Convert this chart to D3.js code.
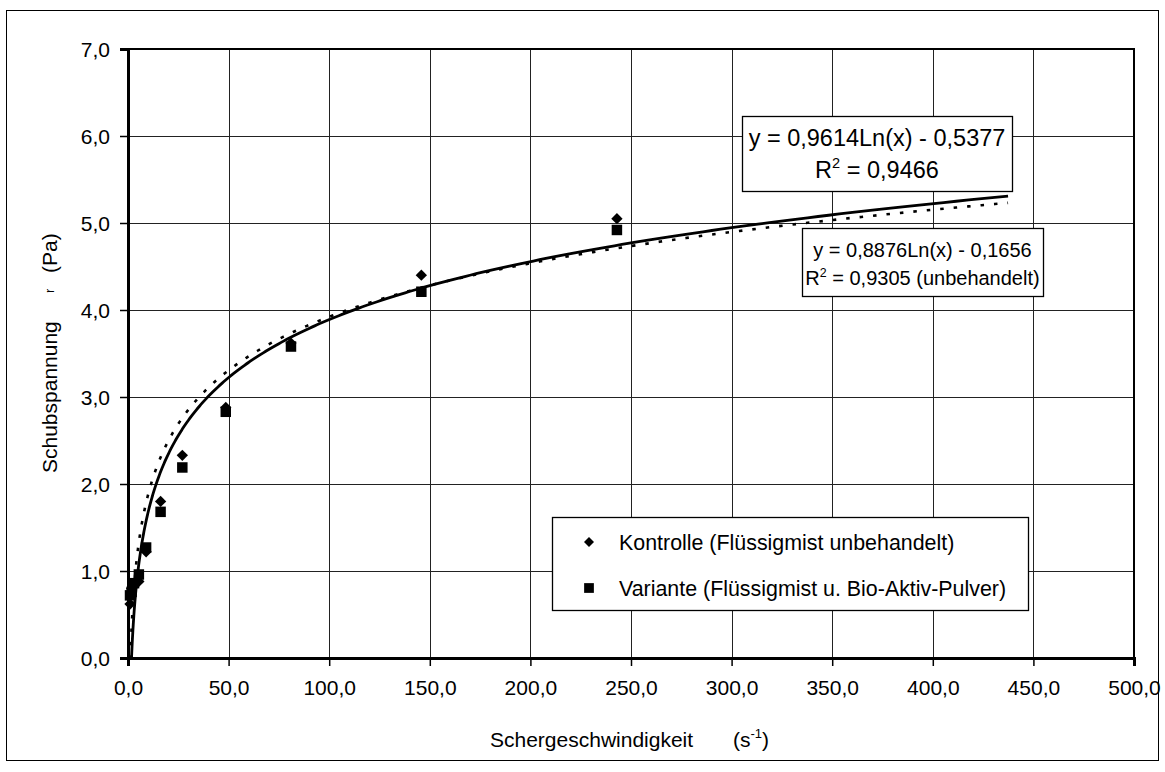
<!DOCTYPE html>
<html>
<head>
<meta charset="utf-8">
<script src="https://cdn.jsdelivr.net/npm/d3@7"></script>
<style>
  body { margin: 0; background: #fff; }
  svg { display: block; }
  text { font-family: "Liberation Sans", Arial, Helvetica, sans-serif; fill: #000; }
</style>
</head>
<body>
<svg id="chart" width="1165" height="772"></svg>
<script>
// Shear rate steps (1/s) and measured shear stress (Pa)
const shearRates = [1.0, 1.8, 3.0, 5.4, 9.0, 16.2, 27.0, 48.6, 81.0, 145.8, 243.0];
const kontrolle  = [0.62, 0.80, 0.83, 0.88, 1.22, 1.80, 2.33, 2.88, 3.62, 4.40, 5.05];
const variante   = [0.72, 0.76, 0.86, 0.96, 1.27, 1.68, 2.19, 2.83, 3.58, 4.21, 4.92];

// Logarithmic trend lines y = a*ln(x) + b
const fitVariante  = [0.9614, -0.5377];
const fitKontrolle = [0.8876, -0.1656];
const fitRange = [1.0, 437.4];

const xTicks = [0, 50, 100, 150, 200, 250, 300, 350, 400, 450, 500];
const yTicks = [0, 1, 2, 3, 4, 5, 6, 7];

const seriesNames = ["Kontrolle (Flüssigmist unbehandelt)", "Variante (Flüssigmist u. Bio-Aktiv-Pulver)"];

const svg = d3.select("#chart");
const W = 1165, H = 772;
const plot = { left: 128, top: 49, right: 1134, bottom: 658 };

const x = d3.scaleLinear().domain([0, 500]).range([plot.left, plot.right]);
const y = d3.scaleLinear().domain([0, 7]).range([plot.bottom, plot.top]);

const de = d3.formatLocale({ decimal: ",", thousands: ".", grouping: [3], currency: ["", " €"] });
const fmt = de.format(".1f");
const fmt4 = de.format(".4f");

svg.append("rect").attr("width", W).attr("height", H).attr("fill", "#fff");

// outer chart frame
svg.append("rect")
  .attr("x", 6.5).attr("y", 10.5).attr("width", 1152).attr("height", 750)
  .attr("fill", "none").attr("stroke", "#000").attr("stroke-width", 1);

// grid
const grid = svg.append("g").attr("stroke", "#222").attr("stroke-width", 1);
grid.selectAll("line.gx").data(xTicks.filter(d => d > 0)).join("line")
  .attr("x1", d => Math.round(x(d)) + 0.5).attr("x2", d => Math.round(x(d)) + 0.5)
  .attr("y1", plot.top).attr("y2", plot.bottom);
grid.selectAll("line.gy").data(yTicks.filter(d => d > 0)).join("line")
  .attr("y1", d => Math.round(y(d)) + 0.5).attr("y2", d => Math.round(y(d)) + 0.5)
  .attr("x1", plot.left).attr("x2", plot.right);

// plot area frame
svg.append("rect")
  .attr("x", plot.left).attr("y", plot.top)
  .attr("width", plot.right - plot.left).attr("height", plot.bottom - plot.top)
  .attr("fill", "none").attr("stroke", "#000").attr("stroke-width", 2);

// axes
const xAxis = d3.axisBottom(x).tickValues(xTicks).tickFormat(fmt).tickSize(8).tickPadding(14);
const yAxis = d3.axisLeft(y).tickValues(yTicks).tickFormat(fmt).tickSize(8).tickPadding(10);

const gx = svg.append("g").attr("transform", `translate(0,${plot.bottom})`).call(xAxis);
const gy = svg.append("g").attr("transform", `translate(${plot.left},0)`).call(yAxis);
[gx, gy].forEach(g => {
  g.select(".domain").attr("stroke", "#000").attr("stroke-width", 3);
  g.selectAll(".tick line").attr("stroke", "#000").attr("stroke-width", 1.5);
  g.selectAll(".tick text").attr("font-size", 21).attr("font-family", '"Liberation Sans", Arial, sans-serif').attr("fill", "#000");
});
gy.selectAll(".tick text").attr("dy", "0.35em");

// axis titles
svg.append("text").attr("x", 490).attr("y", 747).attr("font-size", 21).text("Schergeschwindigkeit");
const xt = svg.append("text").attr("x", 733).attr("y", 747).attr("font-size", 21);
xt.append("tspan").text("(s");
xt.append("tspan").attr("font-size", 13).attr("dy", -9).text("-1");
xt.append("tspan").attr("dy", 9).text(")");

svg.append("text").attr("transform", "translate(57,473) rotate(-90)").attr("font-size", 21).text("Schubspannung");
svg.append("text").attr("transform", "translate(54,293) rotate(-90)").attr("font-size", 13).text("r");
svg.append("text").attr("transform", "translate(57,273) rotate(-90)").attr("font-size", 21).text("(Pa)");

// trend lines
svg.append("clipPath").attr("id", "plotClip").append("rect")
  .attr("x", plot.left).attr("y", plot.top)
  .attr("width", plot.right - plot.left).attr("height", plot.bottom - plot.top);

const samples = d3.range(0, 401).map(i => fitRange[0] * Math.pow(fitRange[1] / fitRange[0], i / 400));
const trend = ([a, b]) => d3.line()
  .x(d => x(d)).y(d => y(a * Math.log(d) + b))(samples);

const curves = svg.append("g").attr("clip-path", "url(#plotClip)").attr("fill", "none");
curves.append("path").attr("d", trend(fitKontrolle))
  .attr("stroke", "#000").attr("stroke-width", 2.6).attr("stroke-dasharray", "3.5,10");
curves.append("path").attr("d", trend(fitVariante))
  .attr("stroke", "#000").attr("stroke-width", 2.8);

// markers: diamond = square turned by 45 degrees
const diamondPath = d3.symbol().type(d3.symbolSquare).size(64)();
const squarePath = d3.symbol().type(d3.symbolSquare).size(110)();
const pts = svg.append("g");
pts.selectAll("path.k").data(shearRates.map((s, i) => [s, kontrolle[i]])).join("path")
  .attr("transform", d => `translate(${x(d[0])},${y(d[1])}) rotate(45)`)
  .attr("d", diamondPath).attr("fill", "#000");
pts.selectAll("path.v").data(shearRates.map((s, i) => [s, variante[i]])).join("path")
  .attr("transform", d => `translate(${x(d[0])},${y(d[1])})`)
  .attr("d", squarePath).attr("fill", "#000");

// equation labels
function eqBox(bx, by, bw, bh, fs, fit, r2, suffix, base1, base2) {
  const g = svg.append("g");
  g.append("rect").attr("x", bx + 0.5).attr("y", by + 0.5).attr("width", bw).attr("height", bh)
    .attr("fill", "#fff").attr("stroke", "#000").attr("stroke-width", 1.3);
  const cx = bx + bw / 2;
  g.append("text").attr("x", cx).attr("y", base1).attr("text-anchor", "middle").attr("font-size", fs)
    .text(`y = ${fmt4(fit[0])}Ln(x) - ${fmt4(-fit[1])}`);
  const t = g.append("text").attr("x", cx).attr("y", base2).attr("text-anchor", "middle").attr("font-size", fs);
  t.append("tspan").text("R");
  t.append("tspan").attr("font-size", fs * 0.62).attr("dy", -fs * 0.42).text("2");
  t.append("tspan").attr("dy", fs * 0.42).text(` = ${r2}${suffix}`);
}
eqBox(742, 116, 270, 75, 23.5, fitVariante, "0,9466", "", 146, 178);
eqBox(802, 228, 241, 68, 20, fitKontrolle, "0,9305", " (unbehandelt)", 257, 285);

// legend
const lg = svg.append("g");
lg.append("rect").attr("x", 552.5).attr("y", 517.5).attr("width", 476).attr("height", 93)
  .attr("fill", "#fff").attr("stroke", "#000").attr("stroke-width", 1.3);
lg.append("path").attr("transform", "translate(589,542) rotate(45)")
  .attr("d", d3.symbol().type(d3.symbolSquare).size(50)()).attr("fill", "#000");
lg.append("path").attr("transform", "translate(589,588)")
  .attr("d", d3.symbol().type(d3.symbolSquare).size(95)()).attr("fill", "#000");
lg.append("text").attr("x", 619).attr("y", 549.5).attr("font-size", 21.4).text(seriesNames[0]);
lg.append("text").attr("x", 619).attr("y", 595.5).attr("font-size", 21.4).text(seriesNames[1]);
</script>
</body>
</html>
